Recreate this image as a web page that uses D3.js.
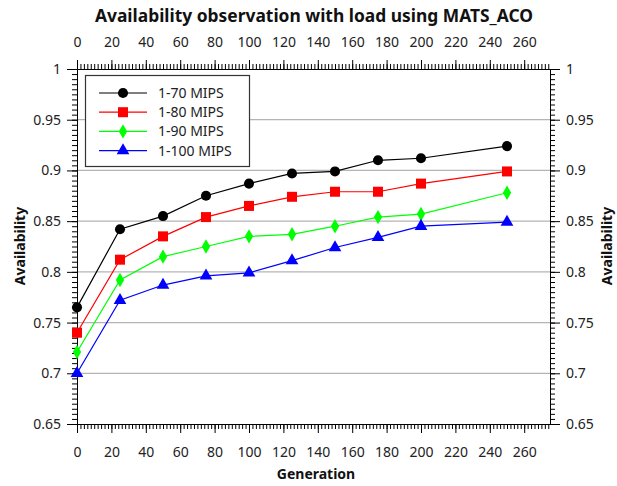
<!DOCTYPE html>
<html>
<head>
<meta charset="utf-8">
<script src="https://cdn.jsdelivr.net/npm/d3@7/dist/d3.min.js"></script>
<style>
  html, body { margin: 0; padding: 0; background: #fff; }
  svg text { font-family: "Noto Sans", "Open Sans", sans-serif; }
</style>
</head>
<body>
<svg id="chart" width="617" height="486"></svg>
<script>
// Generation steps (x) and availability per MIPS range
const generations = [0, 25, 50, 75, 100, 125, 150, 175, 200, 250];
const mips70  = [0.765, 0.842, 0.855, 0.875, 0.887, 0.897, 0.899, 0.910, 0.912, 0.924];
const mips80  = [0.740, 0.812, 0.835, 0.854, 0.865, 0.874, 0.879, 0.879, 0.887, 0.899];
const mips90  = [0.721, 0.792, 0.815, 0.825, 0.835, 0.837, 0.845, 0.854, 0.857, 0.878];
const mips100 = [0.700, 0.772, 0.787, 0.796, 0.799, 0.811, 0.824, 0.834, 0.845, 0.849];
const seriesNames = ["1-70 MIPS", "1-80 MIPS", "1-90 MIPS", "1-100 MIPS"];
const xTicks = d3.range(0, 261, 20);
const yTicks = [0.65, 0.7, 0.75, 0.8, 0.85, 0.9, 0.95, 1];
const gridValues = [0.7, 0.75, 0.8, 0.85, 0.9, 0.95];

const series = [
  { name: seriesNames[0], values: mips70,  color: "#000000", symbol: d3.symbolCircle,   size: 80 },
  { name: seriesNames[1], values: mips80,  color: "#ff0000", symbol: d3.symbolSquare,   size: 100 },
  { name: seriesNames[2], values: mips90,  color: "#00ff00", symbol: d3.symbolDiamond,  size: 60 },
  { name: seriesNames[3], values: mips100, color: "#0000ff", symbol: d3.symbolTriangle, size: 70 }
];

const svg = d3.select("#chart");
const L = 77, R = 550, T = 69, B = 424;

const x = d3.scaleLinear().domain([0, 275]).range([L, R]);
const y = d3.scaleLinear().domain([0.65, 1]).range([B, T]);

// horizontal grid
svg.append("g").selectAll("line").data(gridValues).join("line")
  .attr("x1", L).attr("x2", R)
  .attr("y1", d => y(d)).attr("y2", d => y(d))
  .attr("stroke", "#b4b4b4").attr("stroke-width", 1.2);

const fmtY = d => (d === 1 ? "1" : d3.format("")(+d.toFixed(2)));
const xMinor = d3.range(0, 276, 2);
const yMinor = d3.range(0, 71).map(i => 0.65 + i * 0.005);

function styleAxis(g) {
  g.selectAll("path, line").attr("stroke", "#000").attr("stroke-width", 1);
  g.selectAll("text").attr("font-size", 14).attr("fill", "#222");
}

// bottom axis
svg.append("g").attr("transform", `translate(0,${B})`)
  .call(d3.axisBottom(x).tickValues(xMinor).tickFormat("").tickSize(5).tickSizeOuter(0))
  .call(styleAxis);
svg.append("g").attr("transform", `translate(0,${B})`)
  .call(d3.axisBottom(x).tickValues(xTicks).tickSize(9).tickSizeOuter(0).tickPadding(14))
  .call(styleAxis);
// top axis
svg.append("g").attr("transform", `translate(0,${T})`)
  .call(d3.axisTop(x).tickValues(xMinor).tickFormat("").tickSize(5).tickSizeOuter(0))
  .call(styleAxis);
svg.append("g").attr("transform", `translate(0,${T})`)
  .call(d3.axisTop(x).tickValues(xTicks).tickSize(9).tickSizeOuter(0).tickPadding(13))
  .call(styleAxis);
// left axis
svg.append("g").attr("transform", `translate(${L},0)`)
  .call(d3.axisLeft(y).tickValues(yMinor).tickFormat("").tickSize(5).tickSizeOuter(0))
  .call(styleAxis);
svg.append("g").attr("transform", `translate(${L},0)`)
  .call(d3.axisLeft(y).tickValues(yTicks).tickFormat(fmtY).tickSize(10).tickSizeOuter(0).tickPadding(6))
  .call(styleAxis);
// right axis
svg.append("g").attr("transform", `translate(${R},0)`)
  .call(d3.axisRight(y).tickValues(yMinor).tickFormat("").tickSize(5).tickSizeOuter(0))
  .call(styleAxis);
svg.append("g").attr("transform", `translate(${R},0)`)
  .call(d3.axisRight(y).tickValues(yTicks).tickFormat(fmtY).tickSize(10).tickSizeOuter(0).tickPadding(6))
  .call(styleAxis);

// series lines and markers
const line = d3.line().x((d, i) => x(generations[i])).y(d => y(d));
series.forEach(s => {
  svg.append("path").datum(s.values)
    .attr("d", line).attr("fill", "none")
    .attr("stroke", s.color).attr("stroke-width", 1.2);
  svg.append("g").selectAll("path").data(s.values).join("path")
    .attr("transform", (d, i) => `translate(${x(generations[i])},${y(d)})`)
    .attr("d", d3.symbol().type(s.symbol).size(s.size))
    .attr("fill", s.color);
});

// legend
const lg = svg.append("g");
lg.append("rect").attr("x", 85.5).attr("y", 75.5).attr("width", 164).attr("height", 91)
  .attr("fill", "#fff").attr("stroke", "#333").attr("stroke-width", 1.2);
series.forEach((s, i) => {
  const yy = 93 + i * 19.2;
  lg.append("line").attr("x1", 99).attr("x2", 147).attr("y1", yy).attr("y2", yy)
    .attr("stroke", s.color).attr("stroke-width", 1.2);
  lg.append("path").attr("transform", `translate(123,${yy})`)
    .attr("d", d3.symbol().type(s.symbol).size(s.size)).attr("fill", s.color);
  lg.append("text").attr("x", 158).attr("y", yy).attr("dy", "0.35em")
    .attr("font-size", 14).attr("fill", "#222").text(s.name);
});

// titles
svg.append("text").attr("x", 314).attr("y", 22).attr("text-anchor", "middle")
  .attr("font-size", 17.4).attr("font-weight", "bold").attr("fill", "#111")
  .text("Availability observation with load using MATS_ACO");
svg.append("text").attr("x", 316).attr("y", 479).attr("text-anchor", "middle")
  .attr("font-size", 14).attr("font-weight", "bold").attr("fill", "#111")
  .text("Generation");
svg.append("text").attr("transform", "translate(25,246) rotate(-90)").attr("text-anchor", "middle")
  .attr("font-size", 14).attr("font-weight", "bold").attr("fill", "#111")
  .text("Availability");
svg.append("text").attr("transform", "translate(612,246) rotate(-90)").attr("text-anchor", "middle")
  .attr("font-size", 14).attr("font-weight", "bold").attr("fill", "#111")
  .text("Availability");
</script>
</body>
</html>
